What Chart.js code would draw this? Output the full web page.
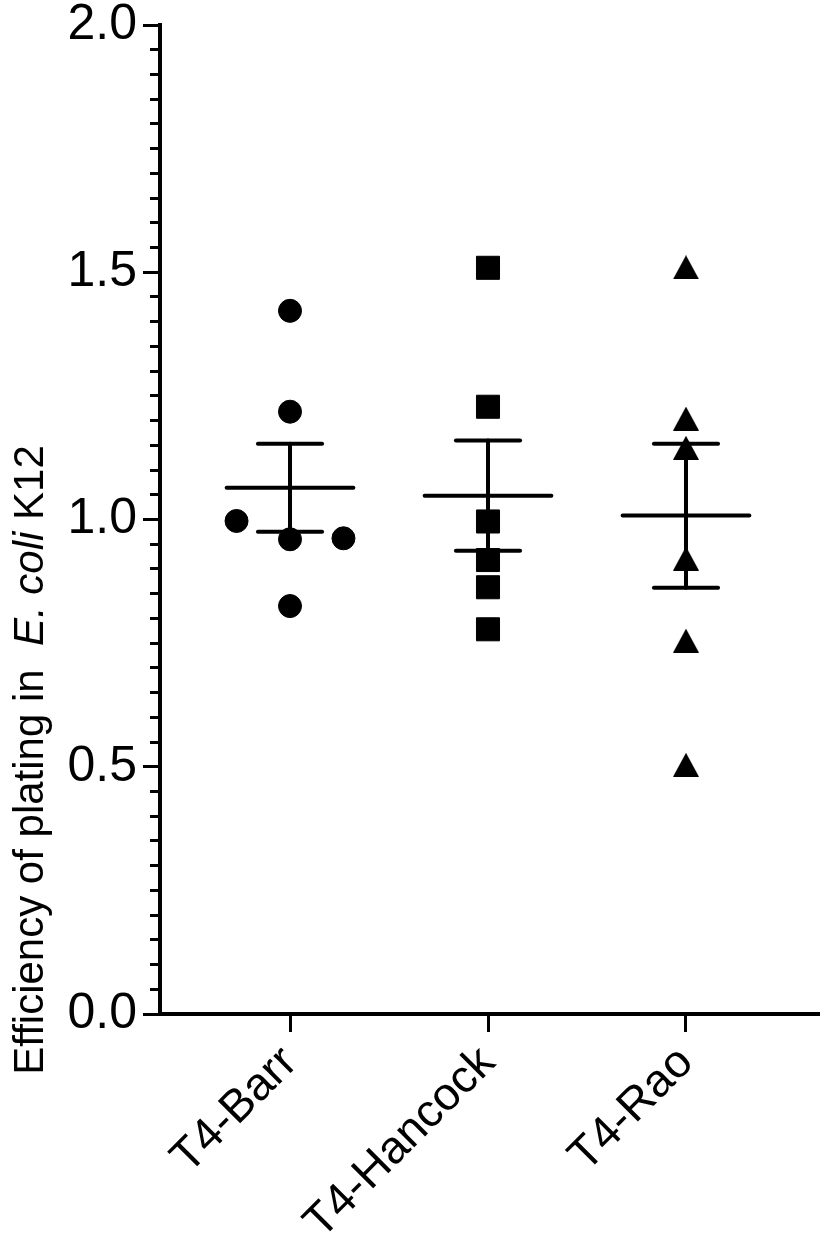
<!DOCTYPE html>
<html>
<head>
<meta charset="utf-8">
<script src="https://cdn.jsdelivr.net/npm/chart.js@4.4.1/dist/chart.umd.min.js"></script>
<style>
  html, body { margin: 0; padding: 0; background: #fff; }
  #wrap { width: 820px; height: 1245px; }
</style>
</head>
<body>
<div id="wrap"><canvas id="epChart" width="820" height="1245"></canvas></div>
<script>
const FONT = "'Liberation Sans', Arial, Helvetica, sans-serif";

const categories = ['T4-Barr', 'T4-Hancock', 'T4-Rao'];
const catPos = [1, 2, 3];

// replicate values
const barrValues = [1.422, 1.218, 0.997, 0.960, 0.962, 0.825];
const barrOffset = [0, 0, -0.27, 0, 0.27, 0];   // horizontal spread of overlapping dots
const hancockValues = [1.509, 1.228, 0.996, 0.918, 0.863, 0.778];
const raoValues = [1.510, 1.204, 1.145, 0.921, 0.755, 0.504];

// mean +/- SEM as drawn
const means = [1.064, 1.048, 1.008];
const semUpper = [1.153, 1.160, 1.153];
const semLower = [0.975, 0.937, 0.862];

const yTitleParts = ['Efficiency of plating in  ', 'E. coli', ' K12'];
const yTitleItalic = [false, true, false];

const X_MIN = 0.3434, X_MAX = 3.6667;
const MEAN_HALF = 0.32, CAP_HALF = 0.162;

function isMajor(v) {
  return Math.abs(v * 2 - Math.round(v * 2)) < 1e-6;
}

function triangleMarker(w, h) {
  const c = document.createElement('canvas');
  c.width = w; c.height = h;
  const g = c.getContext('2d');
  g.fillStyle = '#000';
  g.beginPath();
  g.moveTo(w / 2, 0);
  g.lineTo(w, h);
  g.lineTo(0, h);
  g.closePath();
  g.fill();
  return c;
}

function pointSet(label, values, offsets, cat, style, radius) {
  return {
    label: label,
    data: values.map((v, i) => ({ x: cat + (offsets ? offsets[i] : 0), y: v })),
    pointStyle: style,
    pointRadius: radius,
    pointBackgroundColor: '#000',
    pointBorderColor: '#000',
    pointBorderWidth: 1,
    showLine: false
  };
}

function segment(x1, y1, x2, y2) {
  return {
    data: [{ x: x1, y: y1 }, { x: x2, y: y2 }],
    showLine: true,
    pointRadius: 0,
    borderColor: '#000',
    borderWidth: 4,
    borderCapStyle: 'round'
  };
}

const pointSets = [
  pointSet(categories[0], barrValues, barrOffset, catPos[0], 'circle', 11.5),
  pointSet(categories[1], hancockValues, null, catPos[1], 'rect', 16.3),
  pointSet(categories[2], raoValues, null, catPos[2], triangleMarker(26, 24), 12)
];

const errorSets = [];
catPos.forEach((c, i) => {
  errorSets.push(segment(c - MEAN_HALF, means[i], c + MEAN_HALF, means[i]));
  errorSets.push(segment(c, semLower[i], c, semUpper[i]));
  errorSets.push(segment(c - CAP_HALF, semUpper[i], c + CAP_HALF, semUpper[i]));
  errorSets.push(segment(c - CAP_HALF, semLower[i], c + CAP_HALF, semLower[i]));
});

// y title with italic species name, drawn by hand since axis titles take one font
const yTitlePlugin = {
  id: 'yTitle',
  afterDraw(chart) {
    const ctx = chart.ctx;
    const fonts = yTitleParts.map((t, i) => (yTitleItalic[i] ? 'italic ' : '') + '42px ' + FONT);
    let total = 0;
    const widths = yTitleParts.map((t, i) => {
      ctx.font = fonts[i];
      const w = ctx.measureText(t).width;
      total += w;
      return w;
    });
    ctx.save();
    ctx.translate(43, 760);
    ctx.rotate(-Math.PI / 2);
    ctx.fillStyle = '#000';
    ctx.textAlign = 'left';
    ctx.textBaseline = 'alphabetic';
    let x = -total / 2;
    yTitleParts.forEach((t, i) => {
      ctx.font = fonts[i];
      ctx.fillText(t, x, 0);
      x += widths[i];
    });
    ctx.restore();
  }
};

const chart = new Chart(document.getElementById('epChart'), {
  type: 'scatter',
  data: { datasets: [...pointSets, ...errorSets] },
  options: {
    responsive: false,
    animation: false,
    events: [],
    layout: { autoPadding: false, padding: { top: 25, right: 2, left: 0, bottom: 0 } },
    plugins: { legend: { display: false }, tooltip: { enabled: false } },
    scales: {
      x: {
        type: 'linear', min: X_MIN, max: X_MAX,
        afterBuildTicks: s => { s.ticks = catPos.map(v => ({ value: v })); },
        afterFit: s => { s.height = 231; s.paddingLeft = 0; s.paddingRight = 0; },
        grid: { drawOnChartArea: false, tickLength: 18, lineWidth: 3, tickWidth: 3, tickColor: '#000' },
        border: { color: '#000', width: 4 },
        ticks: {
          color: '#000', font: { family: FONT, size: 46 },
          minRotation: 45, maxRotation: 45, padding: 4, autoSkip: false,
          callback: v => categories[catPos.indexOf(v)]
        }
      },
      y: {
        min: 0, max: 2,
        afterFit: s => { s.width = 160; s.paddingTop = 0; s.paddingBottom = 0; },
        grid: {
          drawOnChartArea: false, tickLength: 17, lineWidth: 3, tickWidth: 3, tickColor: '#000',
          tickBorderDash: c => (c.tick && !isMajor(c.tick.value)) ? [0, 7, 9, 100] : []
        },
        border: { color: '#000', width: 4 },
        ticks: {
          stepSize: 0.05, autoSkip: false, color: '#000', padding: 6,
          font: { family: FONT, size: 50, lineHeight: 1 },
          callback: v => isMajor(v) ? v.toFixed(1) : ''
        }
      }
    }
  },
  plugins: [yTitlePlugin]
});
</script>
</body>
</html>
